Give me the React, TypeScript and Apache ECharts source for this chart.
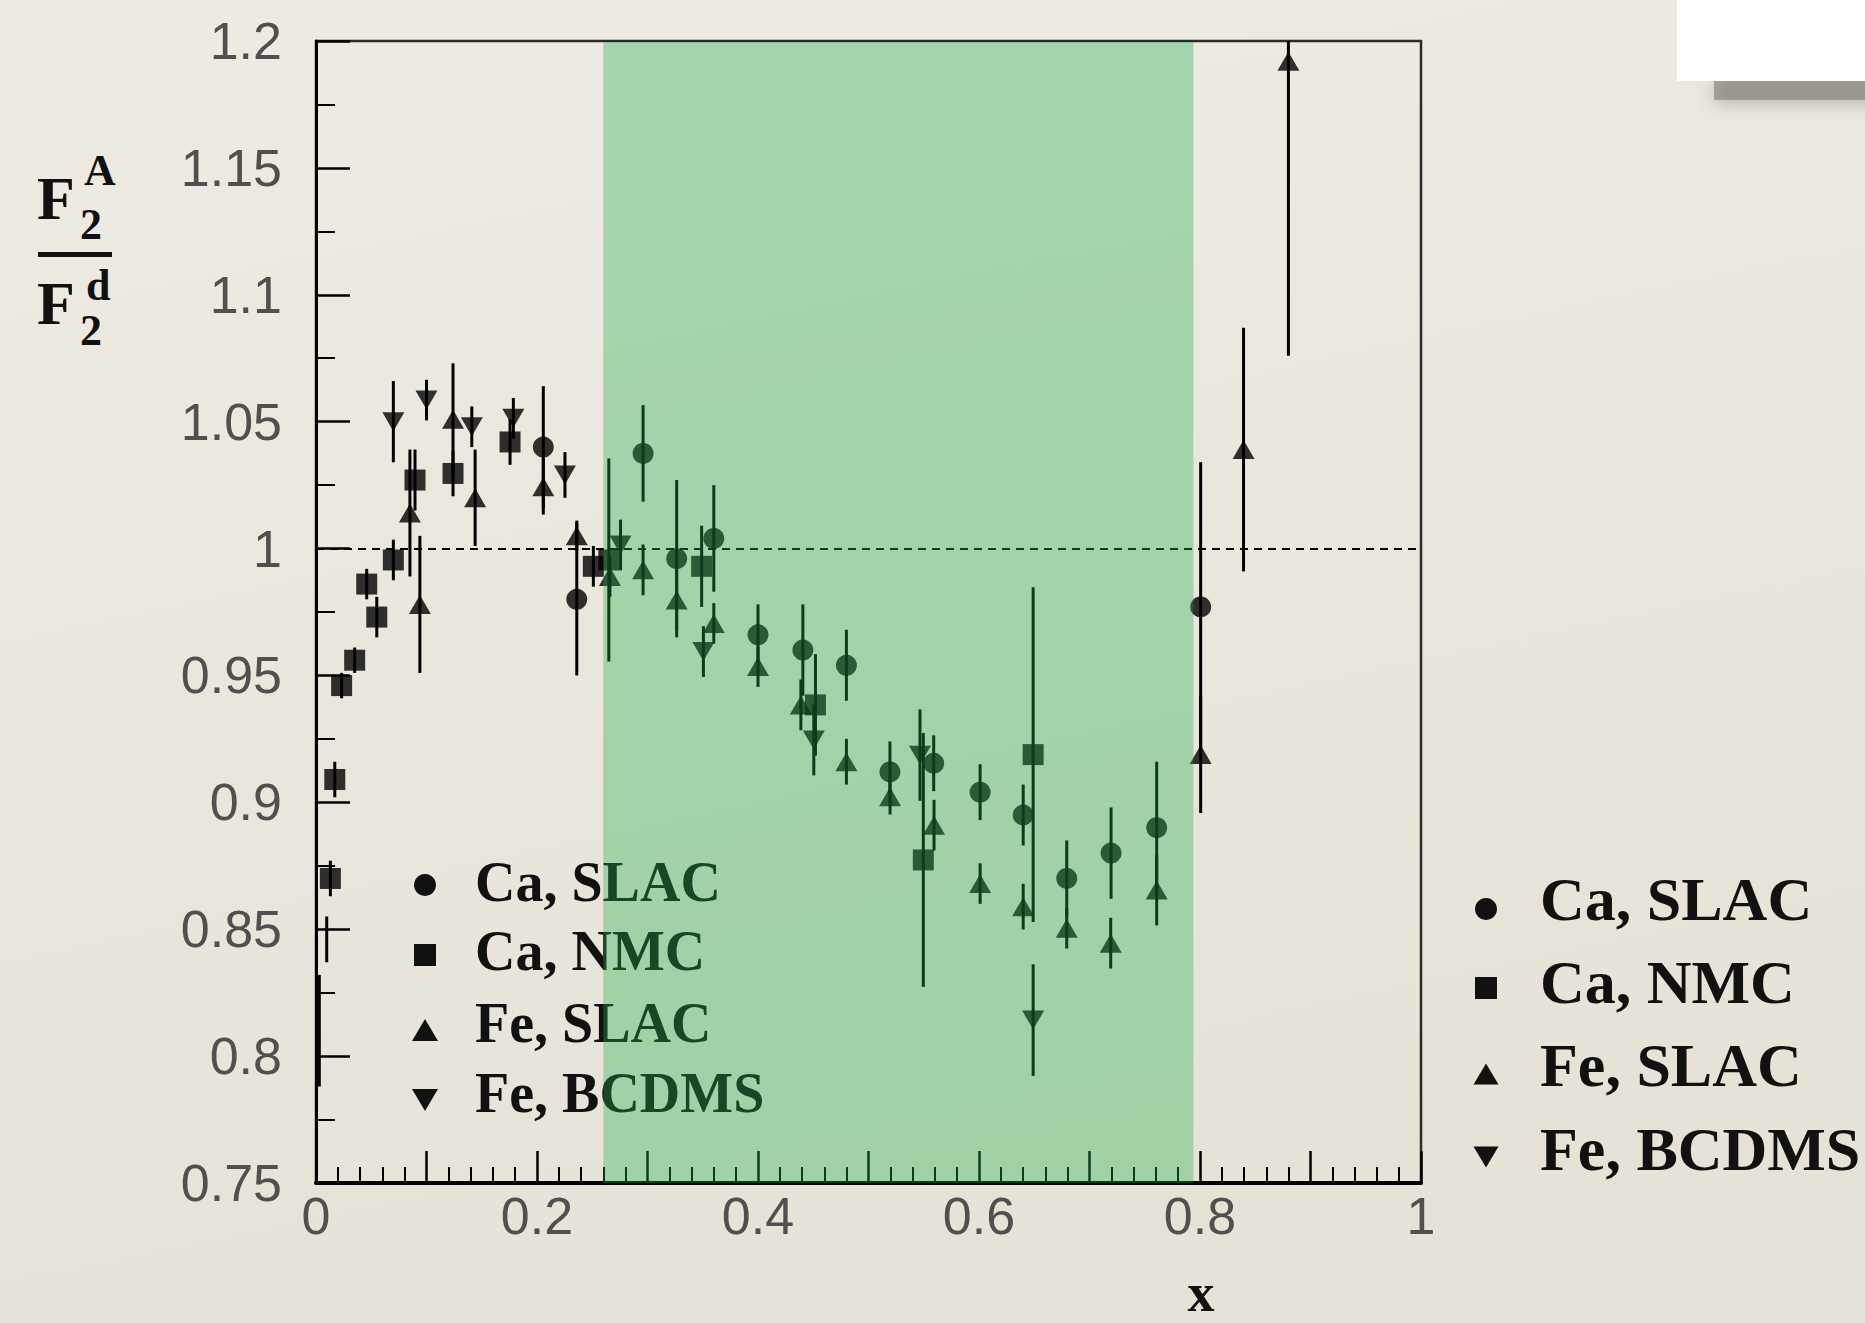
import React, { useEffect, useRef } from "react";
import * as echarts from "echarts";

// Nuclear structure-function ratio F2(A)/F2(d) versus Bjorken x.
// Each point: [x, ratio, error]
const caSlac: number[][] = [
  [0.2057, 1.040, 0.024],
  [0.236, 0.980, 0.030],
  [0.296, 1.0375, 0.019],
  [0.3264, 0.996, 0.031],
  [0.360, 1.004, 0.021],
  [0.400, 0.966, 0.012],
  [0.4406, 0.960, 0.018],
  [0.480, 0.954, 0.014],
  [0.5194, 0.912, 0.012],
  [0.559, 0.9154, 0.011],
  [0.601, 0.904, 0.011],
  [0.640, 0.895, 0.012],
  [0.6794, 0.870, 0.015],
  [0.7195, 0.880, 0.018],
  [0.7608, 0.890, 0.026],
  [0.8006, 0.977, 0.057],
];

const caNmc: number[][] = [
  [0.013, 0.870, 0.007],
  [0.017, 0.909, 0.007],
  [0.0232, 0.946, 0.005],
  [0.035, 0.956, 0.005],
  [0.0459, 0.986, 0.006],
  [0.055, 0.973, 0.008],
  [0.070, 0.9955, 0.008],
  [0.0896, 1.027, 0.012],
  [0.124, 1.0296, 0.009],
  [0.1756, 1.042, 0.009],
  [0.251, 0.993, 0.008],
  [0.265, 0.9955, 0.040],
  [0.349, 0.993, 0.016],
  [0.452, 0.9384, 0.020],
  [0.5496, 0.8773, 0.050],
  [0.649, 0.9188, 0.066],
];

// Lowest-x Ca NMC points, whose markers sit underneath the y axis
const caNmcEdge: number[][] = [
  [0.0097, 0.846, 0.009],
  [0.003, 0.810, 0.022],
];

const feSlac: number[][] = [
  [0.085, 1.014, 0.025],
  [0.094, 0.978, 0.027],
  [0.124, 1.051, 0.022],
  [0.144, 1.020, 0.019],
  [0.2057, 1.0244, 0.011],
  [0.236, 1.005, 0.006],
  [0.266, 0.989, 0.008],
  [0.296, 0.9916, 0.010],
  [0.3264, 0.9797, 0.012],
  [0.360, 0.9705, 0.008],
  [0.400, 0.9535, 0.008],
  [0.4388, 0.9384, 0.010],
  [0.480, 0.916, 0.009],
  [0.5195, 0.9022, 0.007],
  [0.5593, 0.891, 0.010],
  [0.601, 0.868, 0.008],
  [0.640, 0.8589, 0.009],
  [0.6794, 0.8504, 0.008],
  [0.7192, 0.8445, 0.010],
  [0.7608, 0.8655, 0.014],
  [0.8006, 0.9188, 0.023],
  [0.8394, 1.039, 0.048],
  [0.880, 1.192, 0.116],
];

const feBcdms: number[][] = [
  [0.070, 1.050, 0.016],
  [0.100, 1.0585, 0.008],
  [0.141, 1.048, 0.008],
  [0.1786, 1.0513, 0.008],
  [0.2253, 1.029, 0.009],
  [0.2756, 1.0014, 0.010],
  [0.3506, 0.9594, 0.010],
  [0.4505, 0.9246, 0.014],
  [0.5466, 0.9186, 0.018],
  [0.649, 0.8142, 0.022],
];

const seriesNames = ["Ca, SLAC", "Ca, NMC", "Fe, SLAC", "Fe, BCDMS"];

// Highlighted x interval
const bandRange = [0.26, 0.794];

const xRange = [0, 1];
const yRange = [0.75, 1.2];
const unityLevel = 1;

const INK = "#111";
const SERIF = '"Liberation Serif", "Times New Roman", serif';

function toPoints(list: number[][]) {
  return list.map((p) => [p[0], p[1]]);
}
function toBars(list: number[][]) {
  return list.map((p) => [p[0], p[1] - p[2], p[1] + p[2]]);
}

function legendBlock(
  symX: number,
  textX: number,
  rowsSym: number[],
  rowsText: number[],
  fontSize: number,
  r: number,
  tri: [number, number],
  z: number
) {
  const els: any[] = [];
  els.push({
    type: "circle",
    z,
    shape: { cx: symX, cy: rowsSym[0], r },
    style: { fill: INK },
  });
  els.push({
    type: "rect",
    z,
    shape: { x: symX - r, y: rowsSym[1] - r, width: 2 * r, height: 2 * r },
    style: { fill: INK },
  });
  const [tw, th] = tri;
  els.push({
    type: "polygon",
    z,
    shape: {
      points: [
        [symX - tw / 2, rowsSym[2] + th / 2],
        [symX + tw / 2, rowsSym[2] + th / 2],
        [symX, rowsSym[2] - th / 2],
      ],
    },
    style: { fill: INK },
  });
  els.push({
    type: "polygon",
    z,
    shape: {
      points: [
        [symX - tw / 2, rowsSym[3] - th / 2],
        [symX + tw / 2, rowsSym[3] - th / 2],
        [symX, rowsSym[3] + th / 2],
      ],
    },
    style: { fill: INK },
  });
  seriesNames.forEach((name, i) => {
    els.push({
      type: "text",
      z,
      x: textX,
      y: rowsText[i],
      style: {
        text: name,
        fill: INK,
        font: `bold ${fontSize}px ${SERIF}`,
        align: "left",
        verticalAlign: "middle",
      },
    });
  });
  return els;
}

function scriptText(text: string, x: number, y: number, size: number) {
  return {
    type: "text",
    z: 5,
    x,
    y,
    style: {
      text,
      fill: INK,
      font: `bold ${size}px ${SERIF}`,
      align: "left",
      verticalAlign: "middle",
    },
  };
}

export default function App() {
  const ref = useRef<HTMLDivElement>(null);

  useEffect(() => {
    if (!ref.current) return;
    const chart = echarts.init(ref.current, null, { renderer: "svg" });

    const tickLabel = {
      fontFamily: '"Liberation Sans", Arial, sans-serif',
      fontSize: 52,
      color: "#505050",
    };

    const allBars = [
      ...toBars(caSlac),
      ...toBars(caNmc),
      ...toBars(caNmcEdge),
      ...toBars(feSlac),
      ...toBars(feBcdms),
    ];

    const option: any = {
      animation: false,
      backgroundColor: {
        type: "linear",
        x: 0,
        y: 0,
        x2: 0.3,
        y2: 1,
        colorStops: [
          { offset: 0, color: "#eeebe3" },
          { offset: 1, color: "#e6e2d6" },
        ],
      },
      grid: {
        left: 316,
        top: 41,
        width: 1105,
        height: 1142,
        show: true,
        borderColor: "#2b2b2b",
        borderWidth: 2.5,
        backgroundColor: "transparent",
      },
      xAxis: {
        type: "value",
        min: xRange[0],
        max: xRange[1],
        interval: 0.1,
        axisLine: { show: true, onZero: false, lineStyle: { color: "#000", width: 4 } },
        axisTick: { show: true, inside: true, length: 32, lineStyle: { color: "#000", width: 2.5 } },
        minorTick: { show: true, splitNumber: 5, length: 16, lineStyle: { color: "#000", width: 2 } },
        splitLine: { show: false },
        minorSplitLine: { show: false },
        axisLabel: {
          ...tickLabel,
          margin: 7,
          formatter: (v: number) =>
            Math.round(v * 10) % 2 === 0 ? String(parseFloat(v.toFixed(1))) : "",
        },
      },
      yAxis: {
        type: "value",
        min: yRange[0],
        max: yRange[1],
        interval: 0.05,
        axisLine: { show: true, onZero: false, lineStyle: { color: "#000", width: 3 } },
        axisTick: { show: true, inside: true, length: 34, lineStyle: { color: "#000", width: 2.5 } },
        minorTick: { show: true, splitNumber: 2, length: 19, lineStyle: { color: "#000", width: 2 } },
        splitLine: { show: false },
        minorSplitLine: { show: false },
        axisLabel: {
          ...tickLabel,
          margin: 34,
          formatter: (v: number) => String(parseFloat(v.toFixed(2))),
        },
      },
      series: [
        {
          name: "error bars",
          type: "custom",
          z: 2,
          clip: true,
          silent: true,
          data: allBars,
          encode: { x: 0, y: [1, 2] },
          renderItem: (_p: any, api: any) => {
            const lo = api.coord([api.value(0), api.value(1)]);
            const hi = api.coord([api.value(0), api.value(2)]);
            return {
              type: "line",
              shape: { x1: lo[0], y1: lo[1], x2: hi[0], y2: hi[1] },
              style: { stroke: "#000", lineWidth: 3 },
            };
          },
        },
        {
          name: seriesNames[0],
          type: "scatter",
          z: 3,
          symbol: "circle",
          symbolSize: 21,
          itemStyle: { color: "#000" },
          data: toPoints(caSlac),
          markLine: {
            silent: true,
            symbol: "none",
            label: { show: false },
            lineStyle: { color: "#000", width: 2.2, type: [8, 6] },
            data: [{ yAxis: unityLevel }],
          },
        },
        {
          name: seriesNames[1],
          type: "scatter",
          z: 3,
          symbol: "rect",
          symbolSize: 21,
          itemStyle: { color: "#000" },
          data: toPoints(caNmc),
        },
        {
          name: seriesNames[2],
          type: "scatter",
          z: 3,
          symbol: "triangle",
          symbolSize: [22, 19],
          itemStyle: { color: "#000" },
          data: toPoints(feSlac),
        },
        {
          name: seriesNames[3],
          type: "scatter",
          z: 3,
          symbol: "triangle",
          symbolRotate: 180,
          symbolSize: [22, 19],
          itemStyle: { color: "#000" },
          data: toPoints(feBcdms),
        },
        {
          name: "band",
          type: "custom",
          z: 10,
          silent: true,
          data: [bandRange],
          encode: { x: [0, 1] },
          renderItem: (_p: any, api: any) => {
            const a = api.coord([api.value(0), yRange[1]]);
            const b = api.coord([api.value(1), yRange[0]]);
            return {
              type: "rect",
              shape: { x: a[0], y: a[1] + 1, width: b[0] - a[0], height: b[1] - a[1] - 1 },
              style: { fill: "rgba(31,174,74,0.35)" },
            };
          },
        },
      ],
      graphic: {
        elements: [
          // y-axis title: F2^A / F2^d
          scriptText("F", 37, 198, 62),
          scriptText("A", 84, 170, 44),
          scriptText("2", 80, 224, 44),
          {
            type: "rect",
            z: 5,
            shape: { x: 38, y: 252, width: 74, height: 5 },
            style: { fill: INK },
          },
          scriptText("F", 37, 303, 62),
          scriptText("d", 86, 285, 44),
          scriptText("2", 80, 330, 44),
          // x-axis title
          {
            type: "text",
            z: 5,
            x: 1201,
            y: 1293,
            style: {
              text: "x",
              fill: INK,
              font: `bold 54px ${SERIF}`,
              align: "center",
              verticalAlign: "middle",
            },
          },
          // legend inside the frame
          ...legendBlock(425, 475, [885, 955, 1030, 1100], [882, 951, 1023, 1093], 56, 11, [26, 22], 4),
          // legend outside the frame
          ...legendBlock(1486, 1540, [909, 988, 1074, 1157], [899, 982, 1065, 1149], 62, 11, [25, 21], 4),
          // note card with its soft shadow in the top-right corner
          {
            type: "rect",
            z: 20,
            shape: { x: 1714, y: 78, width: 170, height: 22 },
            style: {
              fill: "rgba(120,116,110,0.55)",
              shadowBlur: 18,
              shadowColor: "rgba(100,96,90,0.7)",
              shadowOffsetY: 3,
            },
          },
          {
            type: "rect",
            z: 21,
            shape: { x: 1677, y: -10, width: 200, height: 91 },
            style: { fill: "#fdfdfb" },
          },
        ],
      },
    };

    chart.setOption(option);
    return () => chart.dispose();
  }, []);

  return (
    <div
      ref={ref}
      style={{ position: "fixed", left: 0, top: 0, width: 1865, height: 1323 }}
    />
  );
}
